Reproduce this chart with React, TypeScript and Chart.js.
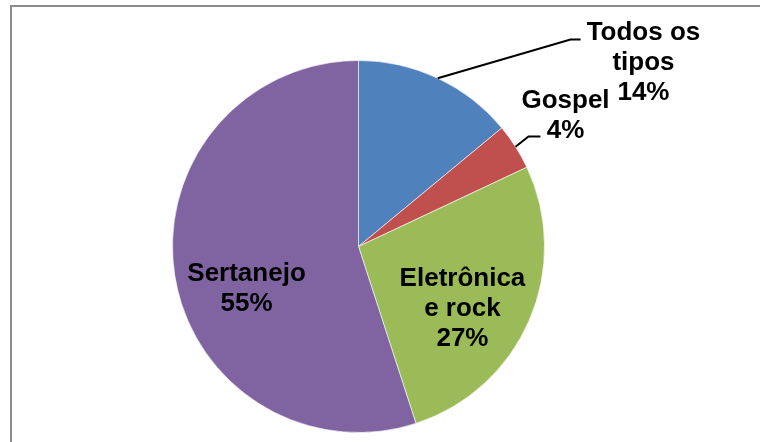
import React, { useEffect, useRef } from "react";
import { Chart, registerables } from "chart.js";

Chart.register(...registerables);

const categories = ["Todos os tipos", "Gospel", "Eletrônica e rock", "Sertanejo"];
const categoryLines = [["Todos os", "tipos"], ["Gospel"], ["Eletrônica", "e rock"], ["Sertanejo"]];
const values = [14, 4, 27, 55];
const colors = ["#4F81BD", "#C0504D", "#9BBB59", "#8064A2"];

// label placement in radius units relative to pie centre: [x centre, first baseline]
const labelOffsets = [
  [1.532, -1.108],
  [1.113, -0.742],
  [0.559, 0.21],
  [-0.602, 0.183],
];
// leader lines (elbow, end) in radius units, null = none
const leaderOffsets: (number[] | null)[] = [
  [1.14, -1.113, 1.194, -1.113],
  [0.914, -0.591, 0.978, -0.591],
  null,
  null,
];

const framePlugin = {
  id: "frame",
  beforeDraw(chart: any) {
    const ctx = chart.ctx;
    ctx.save();
    ctx.fillStyle = "#ffffff";
    ctx.fillRect(0, 0, chart.width, chart.height);
    ctx.strokeStyle = "#8c8c8c";
    ctx.lineWidth = 2;
    ctx.strokeRect(11, 6, chart.width + 20, chart.height + 20);
    ctx.restore();
  },
};

const labelPlugin = {
  id: "pieLabels",
  afterDatasetsDraw(chart: any) {
    const ctx = chart.ctx;
    const meta = chart.getDatasetMeta(0);
    const total = values.reduce((a, b) => a + b, 0);
    ctx.save();
    ctx.font = "bold 26px 'Liberation Sans', Arial, sans-serif";
    ctx.fillStyle = "#000";
    ctx.textAlign = "center";
    ctx.textBaseline = "alphabetic";
    meta.data.forEach((arc: any, i: number) => {
      const { x, y, outerRadius, startAngle, endAngle } = arc.getProps(
        ["x", "y", "outerRadius", "startAngle", "endAngle"],
        true
      );
      const r = outerRadius;
      const lead = leaderOffsets[i];
      if (lead) {
        const mid = (startAngle + endAngle) / 2;
        ctx.beginPath();
        ctx.strokeStyle = "#000";
        ctx.lineWidth = 2;
        ctx.moveTo(x + Math.cos(mid) * r, y + Math.sin(mid) * r);
        ctx.lineTo(x + lead[0] * r, y + lead[1] * r);
        ctx.lineTo(x + lead[2] * r, y + lead[3] * r);
        ctx.stroke();
      }
      const lines = [...categoryLines[i], Math.round((values[i] / total) * 100) + "%"];
      const lx = x + labelOffsets[i][0] * r;
      const ly = y + labelOffsets[i][1] * r;
      lines.forEach((t, k) => ctx.fillText(t, lx, ly + k * 30));
    });
    ctx.restore();
  },
};

export default function App() {
  const ref = useRef<HTMLCanvasElement>(null);
  useEffect(() => {
    const chart = new Chart(ref.current!, {
      type: "pie",
      data: {
        labels: categories,
        datasets: [
          {
            data: values,
            backgroundColor: colors,
            borderColor: "rgba(255,255,255,0.6)",
            borderWidth: 1,
          },
        ],
      },
      options: {
        responsive: false,
        animation: false,
        layout: { padding: { left: 172, right: 215, top: 60, bottom: 9 } },
        plugins: { legend: { display: false }, tooltip: { enabled: false } },
      },
      plugins: [framePlugin, labelPlugin],
    });
    return () => chart.destroy();
  }, []);
  return (
    <div style={{ position: "fixed", left: 0, top: 0, width: 760, height: 442 }}>
      <canvas ref={ref} width={760} height={442} style={{ width: 760, height: 442 }} />
    </div>
  );
}
